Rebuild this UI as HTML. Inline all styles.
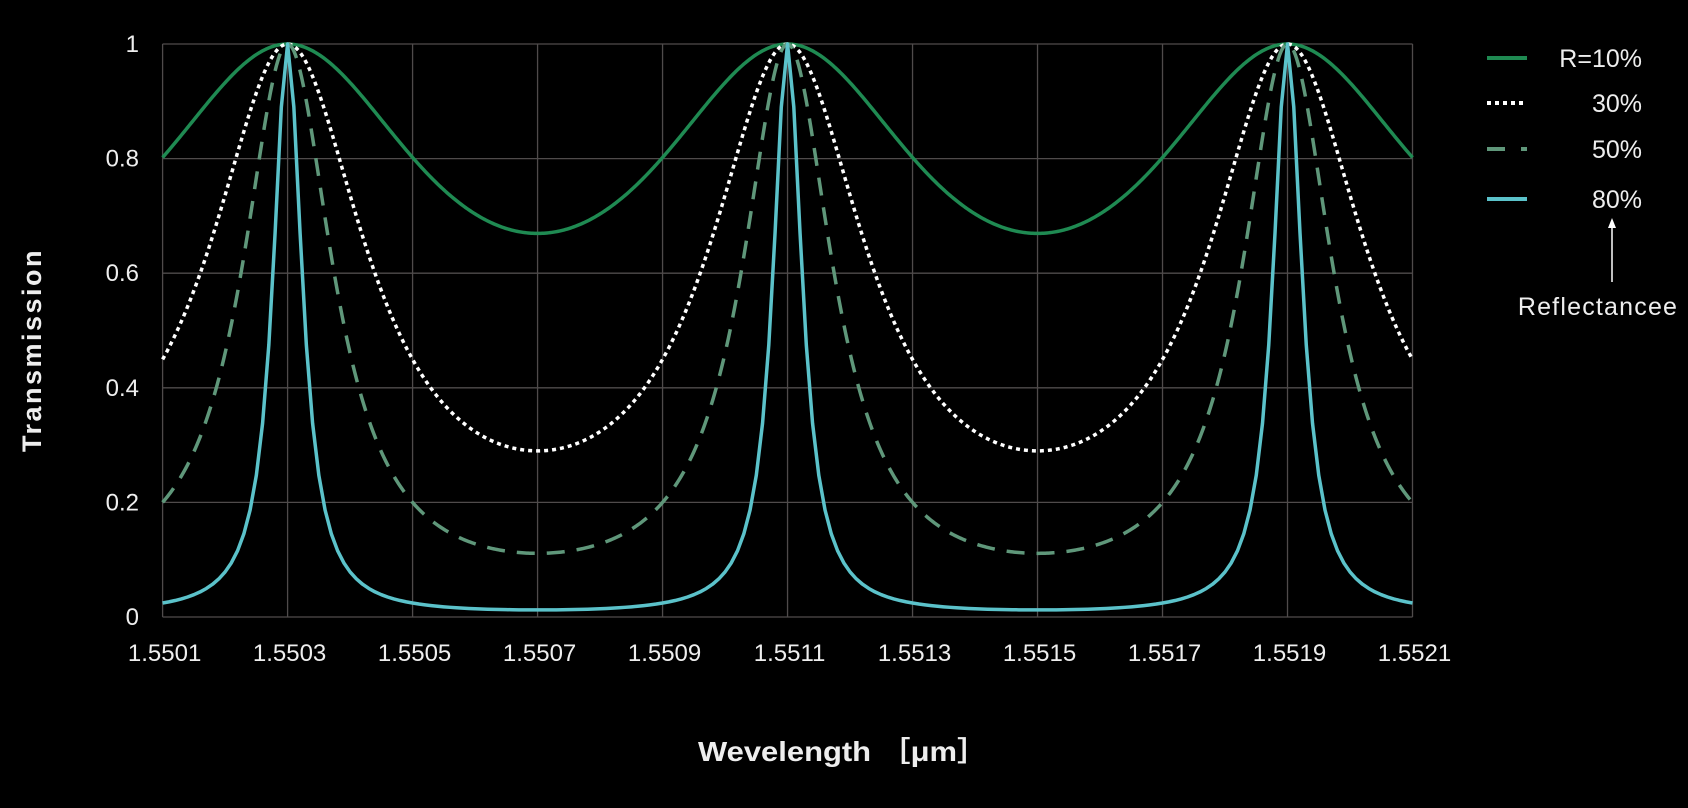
<!DOCTYPE html>
<html><head><meta charset="utf-8"><style>
html,body{margin:0;padding:0;background:#000;}
svg{display:block;}
text{font-family:"Liberation Sans","Noto Sans CJK JP",sans-serif;fill:#eee;}
</style></head><body>
<svg id="s" width="1688" height="808" viewBox="0 0 1688 808" xmlns="http://www.w3.org/2000/svg">
<rect width="1688" height="808" fill="#000"/>
<g id="grid" stroke="#4f4b4b" stroke-width="1.3" fill="none"></g>
<g id="labels" font-size="24"></g>
<g id="curves" fill="none" stroke-linejoin="round"></g>
<text x="843" y="761" font-size="28" font-weight="bold" text-anchor="middle" textLength="290" lengthAdjust="spacingAndGlyphs">Wevelength ［μm］</text>
<text transform="translate(41,350) rotate(-90)" font-size="27" font-weight="bold" text-anchor="middle" letter-spacing="2.5">Transmission</text>
<g font-size="25" text-anchor="end">
<line x1="1487" y1="58" x2="1527" y2="58" stroke="#1f8a52" stroke-width="4"/>
<text x="1642" y="67">R=10%</text>
<line x1="1487" y1="103" x2="1527" y2="103" stroke="#fff" stroke-width="4" stroke-dasharray="4 4"/>
<text x="1642" y="112">30%</text>
<line x1="1487" y1="149" x2="1505" y2="149" stroke="#5f977a" stroke-width="4"/>
<line x1="1521" y1="149" x2="1527" y2="149" stroke="#5f977a" stroke-width="4"/>
<text x="1642" y="158">50%</text>
<line x1="1487" y1="199" x2="1527" y2="199" stroke="#5bc2ca" stroke-width="4"/>
<text x="1642" y="208">80%</text>
</g>
<line x1="1612" y1="226" x2="1612" y2="282" stroke="#fff" stroke-width="1.5"/>
<polygon points="1612,218 1608,228 1616,228" fill="#fff"/>
<text x="1598" y="315" font-size="25" text-anchor="middle" letter-spacing="1.2">Reflectancee</text>
</svg>
<script>
var L=162.6,R=1412.5,T=44,B=617;
var x0=1.5501,x1=1.5521;
function X(v){return L+(v-x0)/(x1-x0)*(R-L);}
function Y(v){return B-v*(B-T);}
var ns="http://www.w3.org/2000/svg";
var g=document.getElementById('grid'),lb=document.getElementById('labels'),cv=document.getElementById('curves');
function el(p,t,a,txt){var e=document.createElementNS(ns,t);for(var k in a)e.setAttribute(k,a[k]);if(txt!=null)e.textContent=txt;p.appendChild(e);return e;}
for(var i=0;i<=5;i++){var y=Y(i*0.2);el(g,'line',{x1:L,x2:R,y1:y,y2:y});
 el(lb,'text',{x:139,y:y+8,'text-anchor':'end'},i==0?'0':i==5?'1':(i*0.2).toFixed(1));}
for(var i=0;i<=10;i++){var v=x0+i*0.0002,x=X(v);el(g,'line',{x1:x,x2:x,y1:T,y2:B});
 el(lb,'text',{x:x+2,y:661,'text-anchor':'middle'},v.toFixed(4));}
var P=0.0008,c=1.5503;
var specs=[[0.1,'#1f8a52',3.5,null],[0.3,'#ffffff',3.5,'4 4'],[0.5,'#5f977a',3.5,'18 12'],[0.8,'#5bc2ca',3.5,null]];
specs.forEach(function(s){
 var r=s[0],F=4*r/((1-r)*(1-r)),d='';
 var N=(s[0]==0.8)?200:800;
 for(var k=0;k<=N;k++){var v=x0+(x1-x0)*k/N;var ph=Math.PI*(v-c)/P;var sn=Math.sin(ph);var t=1/(1+F*sn*sn);
  d+=(k?'L':'M')+X(v).toFixed(2)+','+Y(t).toFixed(2);}
 var a={d:d,stroke:s[1],'stroke-width':s[2]};if(s[3])a['stroke-dasharray']=s[3];
 el(cv,'path',a);
});
</script>
</body></html>
